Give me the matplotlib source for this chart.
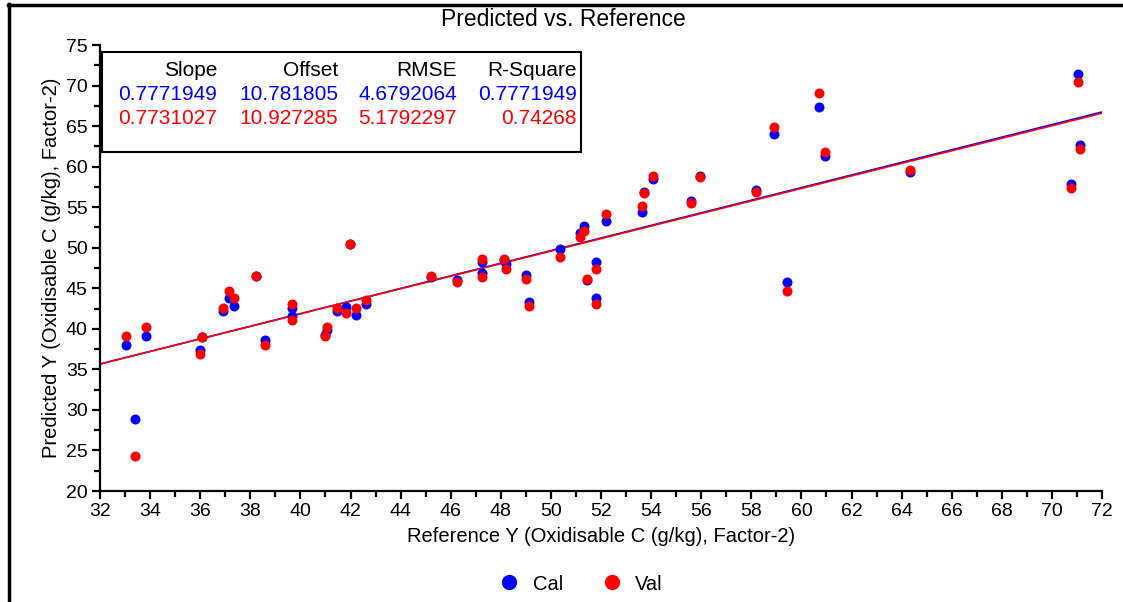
import numpy as np
import matplotlib.pyplot as plt
from matplotlib.lines import Line2D

plt.rcParams['font.family'] = ['Liberation Sans', 'DejaVu Sans']

# reference values and predictions (calibration / validation)
ref_y = [33.03, 33.39, 33.83, 36.00, 36.06, 36.93, 37.15, 37.35, 38.23, 38.59,
         39.67, 39.67, 40.99, 41.06, 41.48, 41.84, 41.99, 42.20, 42.63, 45.22,
         46.25, 47.26, 47.26, 48.13, 48.20, 48.99, 49.14, 50.37, 51.15, 51.31,
         51.46, 51.82, 51.82, 52.19, 53.63, 53.71, 54.07, 55.58, 55.94, 58.18,
         58.90, 59.41, 60.71, 60.93, 64.32, 70.75, 71.05, 71.11]
cal_y = [37.97, 28.84, 39.07, 37.35, 39.03, 42.16, 43.76, 42.85, 46.48, 38.66,
         42.60, 41.54, 39.28, 39.90, 42.20, 42.69, 50.40, 41.74, 43.06, 46.40,
         45.98, 48.24, 46.85, 48.45, 48.03, 46.64, 43.31, 49.81, 51.78, 52.68,
         45.98, 48.24, 43.76, 53.30, 54.40, 56.83, 58.43, 55.76, 58.88, 57.16,
         63.99, 45.77, 67.35, 61.31, 59.34, 57.82, 71.38, 62.71]
val_y = [39.07, 24.35, 40.19, 36.86, 39.03, 42.60, 44.66, 43.76, 46.48, 37.97,
         43.10, 41.09, 39.07, 40.19, 42.60, 41.99, 50.42, 42.60, 43.51, 46.48,
         45.74, 48.65, 46.39, 48.65, 47.34, 46.18, 42.85, 48.86, 51.29, 52.03,
         46.18, 47.34, 43.06, 54.20, 55.11, 56.71, 58.88, 55.55, 58.68, 56.83,
         64.93, 44.63, 69.12, 61.80, 59.59, 57.33, 70.44, 62.18]

stat_names = ['Slope', 'Offset', 'RMSE', 'R-Square']
cal_stats = ['0.7771949', '10.781805', '4.6792064', '0.7771949']
val_stats = ['0.7731027', '10.927285', '5.1792297', '0.74268']

fig = plt.figure(figsize=(11.23, 6.02), dpi=100)
ax = fig.add_axes([100 / 1123, 111 / 602, 1002 / 1123, 446 / 602])

ax.scatter(ref_y, cal_y, s=52, color='#0000ff', linewidths=0, zorder=3)
ax.scatter(ref_y, val_y, s=52, color='#ff0000', linewidths=0, zorder=4)

# fitted regression lines
xx = np.array([32, 72])
ax.plot(xx, float(cal_stats[0]) * xx + float(cal_stats[1]), color='#0000ff', lw=1.2, zorder=2)
ax.plot(xx, float(val_stats[0]) * xx + float(val_stats[1]), color='#ff0000', lw=1.2, zorder=2)

ax.set_xlim(32, 72)
ax.set_ylim(20, 75)
ax.set_xticks(np.arange(32, 73, 2))
ax.set_xticks(np.arange(33, 72, 2), minor=True)
ax.set_yticks(np.arange(20, 76, 5))
ax.set_yticks(np.arange(22.5, 75, 5), minor=True)
for s in ['top', 'right']:
    ax.spines[s].set_visible(False)
for s in ['left', 'bottom']:
    ax.spines[s].set_linewidth(1.6)
ax.tick_params(which='major', length=6, width=1.6, labelsize=14, pad=3)
ax.tick_params(which='minor', length=4, width=1.6)

ax.set_xlabel('Reference Y (Oxidisable C (g/kg), Factor-2)', fontsize=14.5, labelpad=5)
ax.set_ylabel('Predicted Y (Oxidisable C (g/kg), Factor-2)', fontsize=14.5, labelpad=3)
fig.text(0.502, 1 - 20 / 602, 'Predicted vs. Reference', ha='center', va='center', fontsize=16.5)

# statistics box
box = plt.Rectangle((102 / 1123, 1 - 152 / 602), 479 / 1123, 100 / 602,
                    transform=fig.transFigure, facecolor='white', edgecolor='black',
                    lw=1.5, zorder=5)
fig.add_artist(box)
col_x = [217, 338, 457, 577]
for i in range(4):
    fx = col_x[i] / 1123
    fig.text(fx, 1 - 70 / 602, stat_names[i], ha='right', va='center', fontsize=15, color='black', zorder=6)
    fig.text(fx, 1 - 94 / 602, cal_stats[i], ha='right', va='center', fontsize=15, color='#0000ff', zorder=6)
    fig.text(fx, 1 - 119 / 602, val_stats[i], ha='right', va='center', fontsize=15, color='#ff0000', zorder=6)

# legend
handles = [Line2D([], [], ls='none', marker='o', ms=11, mfc='#0000ff', mec='none'),
           Line2D([], [], ls='none', marker='o', ms=11, mfc='#ff0000', mec='none')]
fig.legend(handles, ['Cal', 'Val'], ncol=2, loc='center', bbox_to_anchor=(0.513, 18 / 602),
           frameon=False, fontsize=14.5, handletextpad=0.15, columnspacing=1.45)

# outer frame (top and left edges)
fig.add_artist(Line2D([8 / 1123, 1], [1 - 4.5 / 602, 1 - 4.5 / 602], transform=fig.transFigure,
                      color='black', lw=2.5))
fig.add_artist(Line2D([9 / 1123, 9 / 1123], [0, 1 - 3.5 / 602], transform=fig.transFigure,
                      color='black', lw=2.5))

fig.savefig('out.png', dpi=100)
